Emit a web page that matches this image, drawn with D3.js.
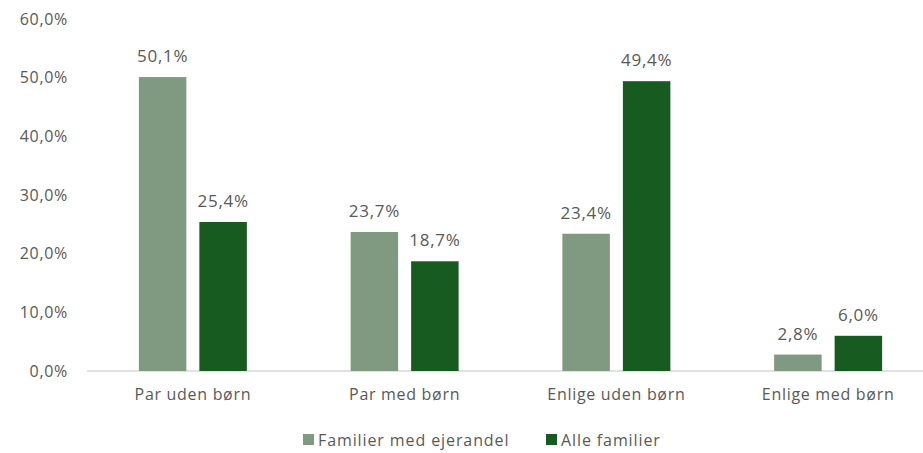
<!DOCTYPE html>
<html>
<head>
<meta charset="utf-8">
<script src="https://cdn.jsdelivr.net/npm/d3@7"></script>
<style>
  body { margin: 0; background: #fff; }
  text { font-family: "Open Sans", Roboto, sans-serif; fill: #595959; letter-spacing: 0.7px; }
</style>
</head>
<body>
<div id="chart"></div>
<script>
// data
var categories = ["Par uden børn", "Par med børn", "Enlige uden børn", "Enlige med børn"];
var seriesNames = ["Familier med ejerandel", "Alle familier"];
var ejerandel = [50.1, 23.7, 23.4, 2.8];
var alleFamilier = [25.4, 18.7, 49.4, 6.0];
var yTicks = [0, 10, 20, 30, 40, 50, 60];
var colors = ["#7f9a80", "#175b20"];

var W = 923, H = 453;
var margin = { top: 19, right: 4, bottom: 82, left: 89 };
var width = W - margin.left - margin.right,
    height = H - margin.top - margin.bottom;

var svg = d3.select("#chart")
  .append("svg")
  .attr("width", W)
  .attr("height", H)
  .append("g")
  .attr("transform", "translate(" + margin.left + "," + margin.top + ")");

var fmt = function(v) { return d3.format(".1f")(v).replace(".", ","); };

// scales (category bands run a little past the right edge, as in the original)
var x = d3.scaleBand().domain(categories).range([-2, 845]).paddingInner(0.49).paddingOuter(0.245);
var x1 = d3.scaleBand().domain(seriesNames).range([0, x.bandwidth()]).paddingInner(0.215);
var y = d3.scaleLinear().domain([0, 60]).range([height, 0]);

// y axis
var yAxis = svg.append("g")
  .call(d3.axisLeft(y).tickValues(yTicks).tickFormat(function(d) { return fmt(d) + "%"; }).tickSize(0).tickPadding(21));
yAxis.select(".domain").remove();
yAxis.selectAll("text").style("font-size", "16px").style("fill", "#595959");

// baseline
svg.append("line")
  .attr("x1", -2).attr("x2", W - margin.left)
  .attr("y1", y(0)).attr("y2", y(0))
  .style("stroke", "#d9d9d9").style("stroke-width", 1.5);

// x axis
var xAxis = svg.append("g")
  .attr("transform", "translate(0," + height + ")")
  .call(d3.axisBottom(x).tickSize(0).tickPadding(18));
xAxis.select(".domain").remove();
xAxis.selectAll("text").style("font-size", "16px").style("fill", "#595959");

// bars
var rows = categories.map(function(c, i) {
  return { cat: c, vals: [ejerandel[i], alleFamilier[i]] };
});
var groups = svg.selectAll(".grp")
  .data(rows)
  .enter()
  .append("g")
  .attr("transform", function(d) { return "translate(" + x(d.cat) + ",0)"; });

groups.selectAll("rect")
  .data(function(d) { return d.vals.map(function(v, j) { return { s: seriesNames[j], v: v, j: j }; }); })
  .enter()
  .append("rect")
  .attr("x", function(d) { return x1(d.s); })
  .attr("y", function(d) { return y(d.v); })
  .attr("width", x1.bandwidth())
  .attr("height", function(d) { return y(0) - y(d.v); })
  .style("fill", function(d) { return colors[d.j]; });

groups.selectAll(".lbl")
  .data(function(d) { return d.vals.map(function(v, j) { return { s: seriesNames[j], v: v }; }); })
  .enter()
  .append("text")
  .attr("x", function(d) { return x1(d.s) + x1.bandwidth() / 2; })
  .attr("y", function(d) { return y(d.v) - 15; })
  .style("text-anchor", "middle")
  .style("font-size", "17px")
  .text(function(d) { return fmt(d.v) + "%"; });

// legend
var legend = d3.select("svg").append("g").attr("transform", "translate(0,440)");
var legX = [303, 546];
seriesNames.forEach(function(s, i) {
  legend.append("rect")
    .attr("x", legX[i]).attr("y", -6)
    .attr("width", 11).attr("height", 11)
    .style("fill", colors[i]);
  legend.append("text")
    .attr("x", legX[i] + 15).attr("y", 6)
    .style("font-size", "16px")
    .style("letter-spacing", "0.9px")
    .text(s);
});
</script>
</body>
</html>
